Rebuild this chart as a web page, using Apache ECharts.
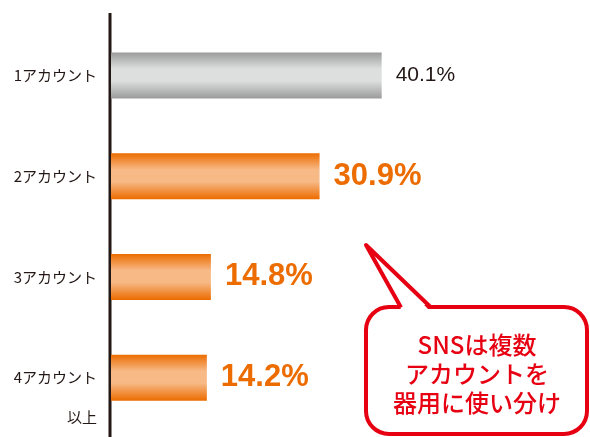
<!DOCTYPE html>
<html>
<head>
<meta charset="utf-8">
<style>
html,body{margin:0;padding:0;background:#fff;}
#chart{width:590px;height:437px;}
</style>
<script src="https://cdn.jsdelivr.net/npm/echarts@6/dist/echarts.min.js"></script>
</head>
<body>
<div id="chart"></div>
<script>
var categories = ['1アカウント', '2アカウント', '3アカウント', '4アカウント\n以上'];
var values = [40.1, 30.9, 14.8, 14.2];
var calloutLines = ['SNSは複数', 'アカウントを', '器用に使い分け'];

var INK = '#231815';
var ORANGE = '#ec6c00';
var RED = '#e60012';

function grad(edge, mid) {
  return {
    type: 'linear', x: 0, y: 0, x2: 0, y2: 1,
    colorStops: [
      {offset: 0, color: edge},
      {offset: 0.36, color: mid},
      {offset: 0.62, color: mid},
      {offset: 1, color: edge}
    ]
  };
}

var data = values.map(function (v, i) {
  var first = i === 0;
  return {
    value: v,
    itemStyle: {color: first ? grad('#9b9b9b', '#dddede') : grad(ORANGE, '#f7b986')},
    label: first ? {
      color: INK, fontSize: 21, fontWeight: 'normal', fontFamily: 'Liberation Sans'
    } : {
      color: ORANGE, fontSize: 31, fontWeight: 'bold', fontFamily: 'Liberation Sans'
    }
  };
});

var chart = echarts.init(document.getElementById('chart'));
chart.setOption({
  animation: false,
  grid: {left: 111, top: 25, width: 405, height: 408},
  xAxis: {
    type: 'value', min: 0, max: 60, show: false
  },
  yAxis: {
    type: 'category',
    inverse: true,
    data: categories,
    axisLine: {show: false},
    axisTick: {show: false},
    axisLabel: {
      margin: 14,
      color: INK,
      fontSize: 15,
      fontFamily: 'Noto Sans CJK JP',
      lineHeight: 40,
      formatter: function (v) {
        return v.indexOf('\n') >= 0 ? '\n' + v : v;
      }
    }
  },
  series: [{
    type: 'bar',
    data: data,
    barWidth: 46,
    label: {
      show: true,
      position: 'right',
      distance: 14,
      formatter: function (p) { return p.value.toFixed(1) + '%'; }
    }
  }],
  graphic: [
    {
      type: 'line',
      shape: {x1: 110, y1: 13, x2: 110, y2: 437},
      style: {stroke: INK, lineWidth: 3}
    },
    {
      type: 'rect',
      shape: {x: 366, y: 307, width: 221, height: 127, r: 23},
      style: {fill: '#fff', stroke: RED, lineWidth: 4}
    },
    {
      type: 'polygon',
      shape: {points: [[402, 311], [366, 245], [430, 311]]},
      style: {fill: '#fff'}
    },
    {
      type: 'polyline',
      shape: {points: [[401, 307.5], [366, 245], [431, 307.5]]},
      style: {stroke: RED, lineWidth: 4, lineJoin: 'round', fill: null}
    },
    {
      type: 'text',
      x: 477,
      y: 374,
      style: {
        text: calloutLines.join('\n'),
        fill: RED,
        fontSize: 24,
        fontWeight: 500,
        fontFamily: 'Noto Sans CJK JP',
        lineHeight: 29,
        align: 'center',
        verticalAlign: 'middle'
      }
    }
  ]
});
</script>
</body>
</html>
